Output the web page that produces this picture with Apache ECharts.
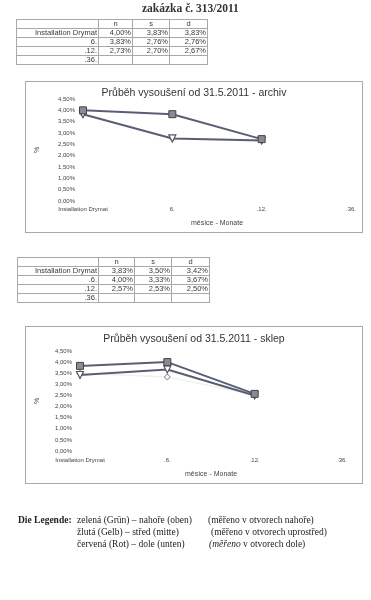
<!DOCTYPE html>
<html><head><meta charset="utf-8">
<script src="https://cdn.jsdelivr.net/npm/echarts@6/dist/echarts.min.js"></script>
<style>
html,body{margin:0;padding:0;background:#fff;}
#page{position:relative;width:371px;height:600px;overflow:hidden;background:#fff;font-family:"Liberation Sans",Arial,sans-serif;color:#333;-webkit-font-smoothing:antialiased;}
.abs{position:absolute;will-change:transform;transform:translateZ(0);}
table.t{border-collapse:collapse;font-size:7.5px;color:#3a3a3a;background:#fff;}
table.t td{border:1px solid #a8a8a8;padding:0 1px;height:8px;line-height:8px;text-align:right;}
table.t td.h{text-align:center;}
.box{border:1px solid #a9a9a9;box-sizing:border-box;}
.leg{font-family:"Liberation Serif","Times New Roman",serif;font-size:9.5px;color:#222;white-space:nowrap;background:#fff;}
</style></head>
<body><div id="page">
<div class="abs" style="left:142px;top:2px;font-family:'Liberation Serif',serif;font-weight:bold;font-size:11.5px;color:#333;white-space:nowrap;background:#fff;">zakázka č. 313/2011</div>
<div id="tab1" class="abs" style="left:16px;top:19px;"></div>
<div id="c1" class="abs box" style="left:25px;top:81px;width:338px;height:152px;"></div>
<div id="tab2" class="abs" style="left:17px;top:257px;"></div>
<div id="c2" class="abs box" style="left:25px;top:326px;width:338px;height:158px;"></div>
<div class="abs leg" style="left:18px;top:515px;"><b>Die Legende:</b></div>
<div class="abs leg" style="left:77px;top:515px;">zelená (Grün) – nahoře (oben)</div>
<div class="abs leg" style="left:77px;top:527px;">žlutá (Gelb) – střed (mitte)</div>
<div class="abs leg" style="left:77px;top:539px;">červená (Rot) – dole (unten)</div>
<div class="abs leg" style="left:208px;top:515px;">(měřeno v otvorech nahoře)</div>
<div class="abs leg" style="left:211px;top:527px;">(měřeno v otvorech uprostřed)</div>
<div class="abs leg" style="left:209px;top:539px;"><i>(měřeno</i> v otvorech dole)</div>
</div>
<script>
// ---- data ----
var seriesNames = ['n', 's', 'd'];
var cats1 = ['Installation Drymat', '6.', '.12.', '.36.'];
var cats2 = ['Installation Drymat', '.6.', '.12.', '.36.'];
var archivN = [4.00, 3.83, 2.73, null];
var archivS = [3.83, 2.76, 2.70, null];
var archivD = [3.83, 2.76, 2.67, null];
var sklepN = [3.83, 4.00, 2.57, null];
var sklepS = [3.50, 3.33, 2.53, null];
var sklepD = [3.42, 3.67, 2.50, null];
var title1 = 'Průběh vysoušení od 31.5.2011 - archiv';
var title2 = 'Průběh vysoušení od 31.5.2011 - sklep';
var xName = 'měsíce - Monate';
var yName = '%';

function fmt(v){ return v.toFixed(2).replace('.', ',') + '%'; }

function buildTable(id, cats, cols, widths){
  var h = '<table class="t"><tr><td class="h" style="width:'+widths[0]+'px"></td>';
  for (var i=0;i<seriesNames.length;i++) h += '<td class="h" style="width:'+widths[i+1]+'px">'+seriesNames[i]+'</td>';
  h += '</tr>';
  for (var r=0;r<cats.length;r++){
    h += '<tr><td>'+cats[r]+'</td>';
    for (var c=0;c<cols.length;c++){ var v = cols[c][r]; h += '<td>'+(v==null?'':fmt(v))+'</td>'; }
    h += '</tr>';
  }
  h += '</table>';
  document.getElementById(id).innerHTML = h;
}
buildTable('tab1', cats1, [archivN, archivS, archivD], [79, 31, 34, 35]);
buildTable('tab2', cats2, [sklepN, sklepS, sklepD], [78, 33, 34, 35]);

function makeChart(id, title, cats, n, s, d, g){
  var ch = echarts.init(document.getElementById(id), null, {renderer:'canvas'});
  var dark = '#5a5e74';
  ch.setOption({
    animation:false,
    backgroundColor:'#fff',
    title:{text:title, left:'center', top:g.titleTop, textStyle:{fontSize:10.5, fontWeight:'normal', color:'#333', fontFamily:'Liberation Sans'}},
    grid:{left:g.left, right:g.right, top:g.top, height:g.height},
    xAxis:{type:'category', data:cats, boundaryGap:false,
      axisLine:{show:false}, axisTick:{show:false}, splitLine:{show:false},
      axisLabel:{fontSize:6, color:'#444', margin:g.xMargin, fontFamily:'Liberation Sans', interval:0},
      name:xName, nameLocation:'middle', nameGap:g.nameGap,
      nameTextStyle:{fontSize:7, color:'#444', fontFamily:'Liberation Sans'}},
    yAxis:{type:'value', min:0, max:4.5, interval:0.5,
      axisLine:{show:false}, axisTick:{show:false}, splitLine:{show:false},
      axisLabel:{fontSize:6, color:'#444', margin:8, fontFamily:'Liberation Sans', formatter:function(v){return fmt(v);}},
      name:yName, nameLocation:'middle', nameGap:g.yNameGap, nameRotate:90,
      nameTextStyle:{fontSize:7, color:'#555'}},
    series:[
      {name:'s', type:'line', data:s, symbol:'diamond', symbolSize:6, z:1,
        lineStyle:{color:'#f2f2ec', width:1.5}, itemStyle:{color:'#fff', borderColor:'#777', borderWidth:1}},
      {name:'d', type:'line', data:d, symbol:'triangle', symbolRotate:180, symbolSize:7, z:2,
        lineStyle:{color:dark, width:2}, itemStyle:{color:'#fff', borderColor:'#555', borderWidth:1.2}},
      {name:'n', type:'line', data:n, symbol:'rect', symbolSize:7, z:3,
        lineStyle:{color:dark, width:2}, itemStyle:{color:'#8a8a94', borderColor:'#444', borderWidth:1}}
    ]
  });
}
makeChart('c1', title1, cats1, archivN, archivS, archivD,
  {titleTop:1, left:50, right:11, top:17, height:108, xMargin:5, nameGap:19, yNameGap:42});
makeChart('c2', title2, cats2, sklepN, sklepS, sklepD,
  {titleTop:2, left:46, right:20, top:24, height:107, xMargin:6, nameGap:20, yNameGap:39});
</script>
</body></html>
